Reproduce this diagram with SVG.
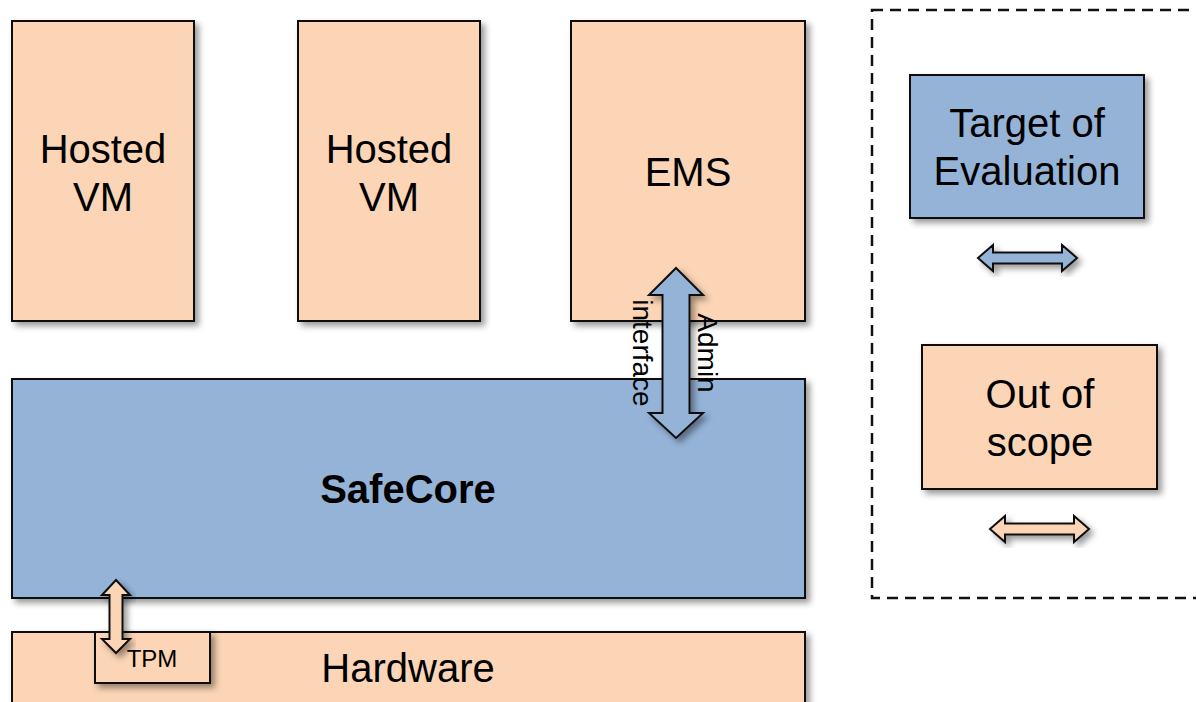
<svg xmlns="http://www.w3.org/2000/svg" width="1196" height="702" viewBox="0 0 1196 702">
<style>
  .org { fill: #FBD5B5; stroke: #111; stroke-width: 2; }
  .blu { fill: #95B3D7; stroke: #111; stroke-width: 2; }
  .lbl { font-family: "Liberation Sans", Arial, sans-serif; font-size: 40px; fill: #000; text-anchor: middle; }
  .bold { font-weight: bold; }
  .small { font-size: 24px; }
  .rot { font-size: 28px; }
  .arr { stroke: #111; stroke-width: 2; stroke-linejoin: miter; }
</style>
<defs>
  <filter id="sh" x="-10%" y="-10%" width="130%" height="130%">
    <feDropShadow dx="4" dy="4" stdDeviation="3" flood-color="#000" flood-opacity="0.4"/>
  </filter>
</defs>
<rect width="1196" height="702" fill="#fff"/>

<g id="legend">
  <rect x="872" y="10" width="340" height="588" fill="none" stroke="#111" stroke-width="2.5" stroke-dasharray="11 7"/>
  <g id="legend-toe">
    <rect class="blu" x="910" y="75" width="234" height="143" filter="url(#sh)"/>
    <text class="lbl" x="1027" y="137">Target of</text>
    <text class="lbl" x="1027" y="185">Evaluation</text>
  </g>
  <path class="blu arr" filter="url(#sh)" d="M978,258 L993,245 L993,252.5 L1062,252.5 L1062,245 L1077,258 L1062,271 L1062,263.5 L993,263.5 L993,271 Z"/>
  <g id="legend-oos">
    <rect class="org" x="922" y="345" width="235" height="144" filter="url(#sh)"/>
    <text class="lbl" x="1040" y="408">Out of</text>
    <text class="lbl" x="1040" y="456">scope</text>
  </g>
  <path class="org arr" filter="url(#sh)" d="M990,529 L1005,516 L1005,523.5 L1074,523.5 L1074,516 L1089,529 L1074,542 L1074,534.5 L1005,534.5 L1005,542 Z"/>
</g>

<g id="vm1">
  <rect class="org" x="12" y="21" width="182" height="300" filter="url(#sh)"/>
  <text class="lbl" x="103" y="163">Hosted</text>
  <text class="lbl" x="103" y="211">VM</text>
</g>
<g id="vm2">
  <rect class="org" x="298" y="21" width="182" height="300" filter="url(#sh)"/>
  <text class="lbl" x="389" y="163">Hosted</text>
  <text class="lbl" x="389" y="211">VM</text>
</g>
<g id="ems">
  <rect class="org" x="571" y="21" width="234" height="300" filter="url(#sh)"/>
  <text class="lbl" x="688" y="186">EMS</text>
</g>
<g id="safecore">
  <rect class="blu" x="12" y="379" width="793" height="219" filter="url(#sh)"/>
  <text class="lbl bold" x="408" y="503">SafeCore</text>
</g>
<g id="hardware">
  <rect class="org" x="12" y="632" width="793" height="90" filter="url(#sh)"/>
  <text class="lbl" x="408" y="682">Hardware</text>
</g>
<g id="tpm">
  <rect class="org" x="95" y="632" width="115" height="51" filter="url(#sh)"/>
  <text class="lbl small" x="152" y="667">TPM</text>
</g>

<g id="connectors">
  <g id="admin-interface">
    <path class="blu arr" filter="url(#sh)" d="M676,268 L703,295 L689.5,295 L689.5,413 L703,413 L676,438 L649,413 L662.5,413 L662.5,295 L649,295 Z"/>
    <text class="lbl rot" transform="translate(698,353) rotate(90)" x="0" y="0">Admin</text>
    <text class="lbl rot" transform="translate(633,353) rotate(90)" x="0" y="0">interface</text>
  </g>
  <path id="tpm-link" class="org arr" filter="url(#sh)" d="M116,580 L130,595 L122.5,595 L122.5,639 L130,639 L116,653 L102,639 L109.5,639 L109.5,595 L102,595 Z"/>
</g>
</svg>
